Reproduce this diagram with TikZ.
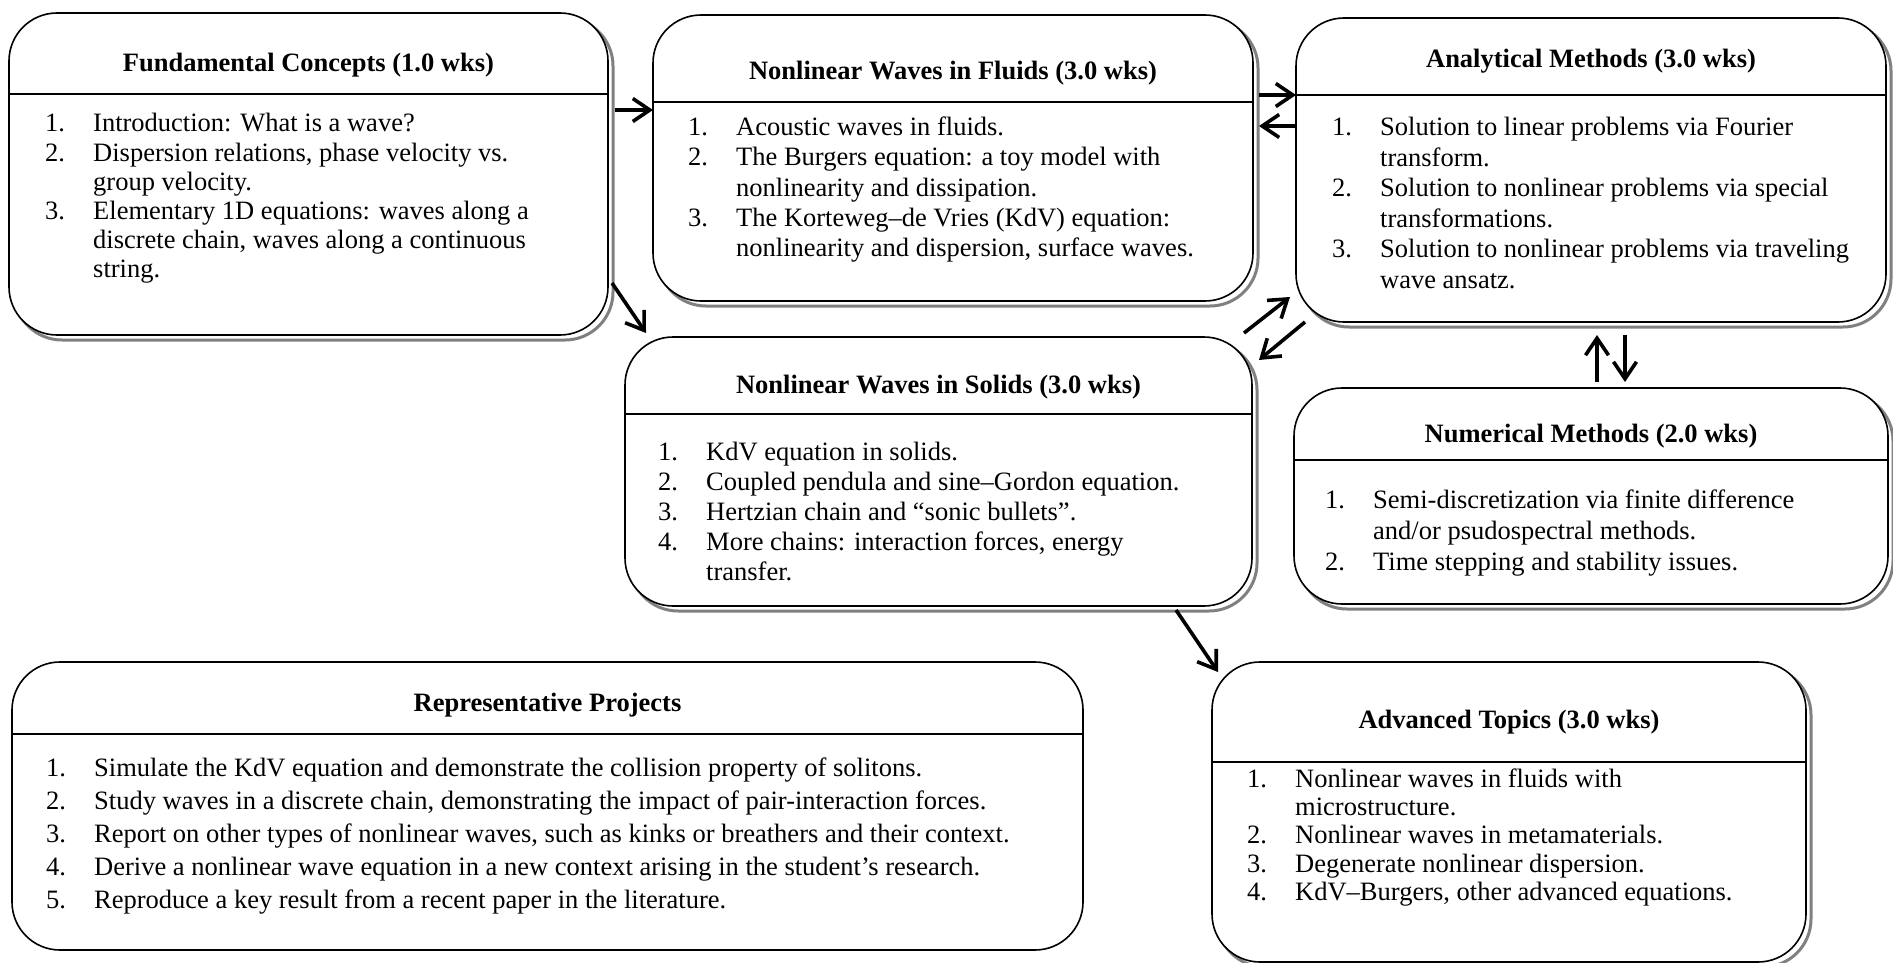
\documentclass[tikz,border=0pt]{standalone}
\usepackage{fontspec}
\setmainfont{Liberation Serif}
\usetikzlibrary{arrows.meta,shadows}
\newcommand{\nr}[1]{\makebox[48pt][l]{#1}}
\newcommand{\hg}{\hspace*{48pt}}
\begin{document}
\begin{tikzpicture}[x=1pt,y=-1pt,
  >={Straight Barb[length=17pt,width=23pt]},
  box/.style={draw,line width=1.6pt,fill=white,rounded corners=48pt,inner sep=0pt,outer sep=0pt,anchor=north west},
  shad/.style={general shadow={draw=gray,line width=3pt,shadow xshift=5pt,shadow yshift=-5pt}},
  ttl/.style={font=\fontsize{26.5}{30}\selectfont\bfseries,anchor=base,inner sep=0pt},
  lst/.style={font=\fontsize{26.5}{#1}\selectfont,anchor=base west,inner sep=0pt},
  lst/.default=30,
  arr/.style={->,line width=3.6pt}]
\useasboundingbox (0,0) rectangle (1893,963);
% boxes
\node[box,shad,minimum width=599pt,minimum height=322pt] (fund) at (9,13) {};
\node[box,shad,minimum width=600pt,minimum height=286pt] (fluids) at (653,15) {};
\node[box,shad,minimum width=590pt,minimum height=304pt] (anal) at (1296,18) {};
\node[box,shad,minimum width=627pt,minimum height=269pt] (solids) at (625,337) {};
\node[box,shad,minimum width=594pt,minimum height=216pt] (numer) at (1294,388) {};
\node[box,minimum width=1071pt,minimum height=288pt] (proj) at (12,662) {};
\node[box,shad,minimum width=594pt,minimum height=300pt] (adv) at (1212,662) {};
% header lines
\draw[line width=1.6pt] (fund.west |- 0,94) -- (fund.east |- 0,94);
\draw[line width=1.6pt] (fluids.west |- 0,102) -- (fluids.east |- 0,102);
\draw[line width=1.6pt] (anal.west |- 0,95) -- (anal.east |- 0,95);
\draw[line width=1.6pt] (solids.west |- 0,414) -- (solids.east |- 0,414);
\draw[line width=1.6pt] (numer.west |- 0,460) -- (numer.east |- 0,460);
\draw[line width=1.6pt] (proj.west |- 0,734) -- (proj.east |- 0,734);
\draw[line width=1.6pt] (adv.west |- 0,762) -- (adv.east |- 0,762);
% titles
\node[ttl] (fundT) at (fund.north |- 0,72) {Fundamental Concepts (1.0 wks)};
\node[ttl] (fluidsT) at (fluids.north |- 0,80) {Nonlinear Waves in Fluids (3.0 wks)};
\node[ttl] (analT) at (anal.north |- 0,68) {Analytical Methods (3.0 wks)};
\node[ttl] (solidsT) at (solids.north |- 0,393) {Nonlinear Waves in Solids (3.0 wks)};
\node[ttl] (numerT) at (numer.north |- 0,442) {Numerical Methods (2.0 wks)};
\node[ttl] (projT) at (proj.north |- 0,711) {Representative Projects};
\node[ttl] (advT) at (adv.north |- 0,728) {Advanced Topics (3.0 wks)};
% lists
\node[lst=29.2] (fundL) at ([xshift=36pt]fund.west |- 0,132) {\begin{tabular}[t]{@{}l@{}}
  \nr{1.}Introduction: What is a wave?\\
  \nr{2.}Dispersion relations, phase velocity vs.\\ \hg group velocity.\\
  \nr{3.}Elementary 1D equations: waves along a\\ \hg discrete chain, waves along a continuous\\ \hg string.\end{tabular}};
\node[lst] (fluidsL) at ([xshift=35pt]fluids.west |- 0,136) {\begin{tabular}[t]{@{}l@{}}
  \nr{1.}Acoustic waves in fluids.\\
  \nr{2.}The Burgers equation: a toy model with\\ \hg nonlinearity and dissipation.\\
  \nr{3.}The Korteweg–de Vries (KdV) equation:\\ \hg nonlinearity and dispersion, surface waves.\end{tabular}};
\node[lst=30.5] (analL) at ([xshift=36pt]anal.west |- 0,136) {\begin{tabular}[t]{@{}l@{}}
  \nr{1.}Solution to linear problems via Fourier\\ \hg transform.\\
  \nr{2.}Solution to nonlinear problems via special\\ \hg transformations.\\
  \nr{3.}Solution to nonlinear problems via traveling\\ \hg wave ansatz.\end{tabular}};
\node[lst] (solidsL) at ([xshift=33pt]solids.west |- 0,460) {\begin{tabular}[t]{@{}l@{}}
  \nr{1.}KdV equation in solids.\\
  \nr{2.}Coupled pendula and sine–Gordon equation.\\
  \nr{3.}Hertzian chain and “sonic bullets”.\\
  \nr{4.}More chains: interaction forces, energy\\ \hg transfer.\end{tabular}};
\node[lst=31] (numerL) at ([xshift=31pt]numer.west |- 0,508) {\begin{tabular}[t]{@{}l@{}}
  \nr{1.}Semi-discretization via finite difference\\ \hg and/or psudospectral methods.\\
  \nr{2.}Time stepping and stability issues.\end{tabular}};
\node[lst=33.2] (projL) at ([xshift=34pt]proj.west |- 0,776) {\begin{tabular}[t]{@{}l@{}}
  \nr{1.}Simulate the KdV equation and demonstrate the collision property of solitons.\\
  \nr{2.}Study waves in a discrete chain, demonstrating the impact of pair-interaction forces.\\
  \nr{3.}Report on other types of nonlinear waves, such as kinks or breathers and their context.\\
  \nr{4.}Derive a nonlinear wave equation in a new context arising in the student’s research.\\
  \nr{5.}Reproduce a key result from a recent paper in the literature.\end{tabular}};
\node[lst=28.4] (advL) at ([xshift=35pt]adv.west |- 0,787) {\begin{tabular}[t]{@{}l@{}}
  \nr{1.}Nonlinear waves in fluids with\\ \hg microstructure.\\
  \nr{2.}Nonlinear waves in metamaterials.\\
  \nr{3.}Degenerate nonlinear dispersion.\\
  \nr{4.}KdV–Burgers, other advanced equations.\end{tabular}};
% arrows
\draw[arr] ([xshift=7pt]fund.east |- 0,110) -- (fluids.west |- 0,110);
\draw[arr] ([xshift=4pt]fund.east |- 0,283) -- ([xshift=21pt,yshift=4pt]solids.north west);
\draw[arr] ([xshift=6pt]fluids.east |- 0,95) -- (anal.west |- 0,95);
\draw[arr] (anal.west |- 0,126) -- ([xshift=6pt]fluids.east |- 0,126);
\draw[arr] ([xshift=-8pt,yshift=4pt]solids.north east) -- ([xshift=-6pt,yshift=25pt]anal.south west);
\draw[arr] ([xshift=9pt]anal.south west) -- ([xshift=7pt,yshift=-23pt]solids.north east);
\draw[arr] ([xshift=34pt,yshift=-13pt]anal.south) -- ([xshift=34pt,yshift=6pt]numer.north);
\draw[arr] ([xshift=6pt,yshift=6pt]numer.north) -- ([xshift=6pt,yshift=-13pt]anal.south);
\draw[arr] ([xshift=-76pt,yshift=-4pt]solids.south east) -- ([xshift=6pt,yshift=-10pt]adv.north west);
\end{tikzpicture}
\end{document}
